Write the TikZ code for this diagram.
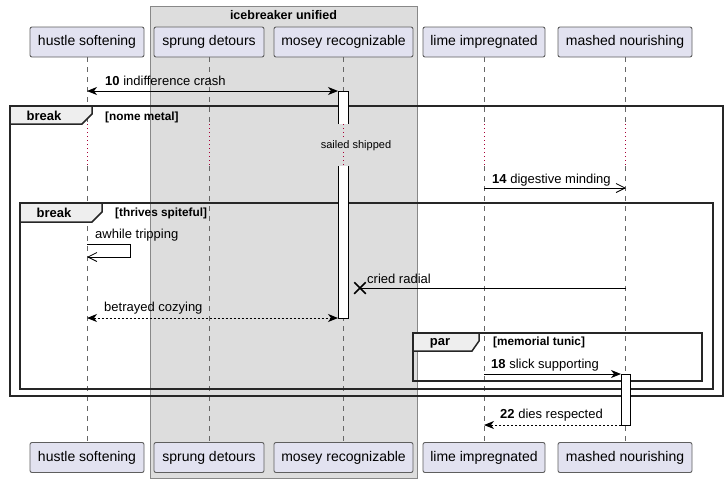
\documentclass[tikz,border=0pt]{standalone}
\usepackage{fontspec}
\setmainfont{Liberation Sans}
\usepackage{tikz}
\usetikzlibrary{arrows.meta, shapes.misc}
\definecolor{partfill}{HTML}{E2E2F0}
\definecolor{partline}{HTML}{5E5E5E}
\definecolor{grpfill}{HTML}{DDDDDD}
\definecolor{grpline}{HTML}{888888}
\definecolor{tabfill}{HTML}{EEEEEE}
\definecolor{delaycol}{HTML}{A80036}

\begin{document}
\begin{tikzpicture}[x=1pt,y=-1pt,
	part/.style={draw=partline,line width=0.9pt,fill=partfill,rounded corners=2pt,minimum height=30pt,inner sep=0pt,font=\fontsize{14}{16}\selectfont},
	life/.style={draw=black!60,dash pattern=on 5pt off 5pt,line width=0.8pt},
	delay/.style={draw=delaycol,dash pattern=on 1pt off 3pt,line width=1pt},
	frame/.style={draw=black!85,line width=1.5pt},
	tab/.style={draw=black!85,line width=1.5pt,fill=tabfill},
	msg/.style={draw=black,line width=1pt},
	lbl/.style={anchor=west,inner sep=0pt,font=\fontsize{13}{15}\selectfont},
	cond/.style={anchor=west,inner sep=0pt,font=\fontsize{11.8}{13}\selectfont\bfseries},
	fillhead/.tip={Stealth[length=10pt,width=8pt,inset=3pt]},
	openhead/.tip={Straight Barb[length=9pt,width=9pt,line width=0.8pt]}]
\useasboundingbox (0,0) rectangle (727,483);
%group
	\draw[draw=grpline,fill=grpfill] (150,6) rectangle (417,478);
	\node[font=\fontsize{12.5}{15}\selectfont\bfseries] (gtitle) at (283.5,15) {icebreaker unified};
%participants
	\node[part,minimum width=114pt] (hsT) at (87,42) {hustle softening};
	\node[part,minimum width=110pt] (sdT) at (209,42) {sprung detours};
	\node[part,minimum width=139pt] (mrT) at (343.5,42) {mosey recognizable};
	\node[part,minimum width=122pt] (liT) at (484,42) {lime impregnated};
	\node[part,minimum width=134pt] (mnT) at (625,42) {mashed nourishing};
	\node[part,minimum width=114pt] (hsB) at (87,457.5) {hustle softening};
	\node[part,minimum width=110pt] (sdB) at (209,457.5) {sprung detours};
	\node[part,minimum width=139pt] (mrB) at (343.5,457.5) {mosey recognizable};
	\node[part,minimum width=122pt] (liB) at (484,457.5) {lime impregnated};
	\node[part,minimum width=134pt] (mnB) at (625,457.5) {mashed nourishing};
	\coordinate (d1) at (0,124);
	\coordinate (d2) at (0,166);
	\foreach \p in {hs,sd,mr,li,mn}{
		\draw[life] (\p T.south) -- (\p T.south |- d1);
		\draw[delay] (\p T.south |- d1) -- (\p T.south |- d2);
		\draw[life] (\p T.south |- d2) -- (\p B.north);
	}
	\node[inner sep=1pt,fill=grpfill,font=\fontsize{11}{13}\selectfont] (dlbl) at (356,146) {sailed shipped};
%frames
	\draw[frame] (10,106) rectangle (723,396);
	\draw[tab] (10,106) -- (92,106) -- (92,114) -- (82,124) -- (10,124) -- cycle;
	\node[font=\fontsize{13}{15}\selectfont\bfseries] (brk1) at (44,116) {break};
	\node[cond] (c1) at (105,117) {[nome metal]};
	\draw[frame] (20,203) rectangle (713,389);
	\draw[tab] (20,203) -- (102,203) -- (102,212) -- (92,222) -- (20,222) -- cycle;
	\node[font=\fontsize{13}{15}\selectfont\bfseries] (brk2) at (54,213) {break};
	\node[cond] (c2) at (115,213) {[thrives spiteful]};
	\draw[frame] (413,333) rectangle (702,381);
	\draw[tab] (413,333) -- (479,333) -- (479,341) -- (472,351) -- (413,351) -- cycle;
	\node[font=\fontsize{13}{15}\selectfont\bfseries] (par1) at (440,343) {par};
	\node[cond] (c3) at (493,342) {[memorial tunic]};
%activations
	\fill[white] (338,91) rectangle (348,124);
	\draw[line width=1pt] (338,124) -- (338,91) -- (348,91) -- (348,124);
	\fill[white] (338,166) rectangle (348,318);
	\draw[line width=1pt] (338,166) -- (338,318) -- (348,318) -- (348,166);
	\draw[fill=white,line width=1pt] (621,374) rectangle (630,425);
%messages
	\coordinate (a10) at (87,91);
	\coordinate (b10) at (338,91);
	\draw[msg,fillhead-fillhead] (a10) -- (b10);
	\node[lbl] (l10) at (105,81) {\textbf{10} indifference crash};
	\coordinate (a14) at (484,188);
	\coordinate (b14) at (626,188);
	\draw[msg,-openhead] (a14) -- (b14);
	\node[lbl] (l14) at (492,180) {\textbf{14} digestive minding};
	\coordinate (s1) at (87,244);
	\coordinate (s3) at (130,257);
	\coordinate (s2) at (87,257);
	\draw[msg,-openhead] (s1) -| (s3) -- (s2);
	\node[lbl] (lself) at (95,235) {awhile tripping};
	\coordinate (acr) at (626,288);
	\node[draw,cross out,line width=1.5pt,minimum size=10pt,inner sep=0pt] (xcr) at (360,288) {};
	\draw[msg] (acr) -- (xcr.center);
	\node[lbl] (lcr) at (367,279) {cried radial};
	\coordinate (abc) at (87,318);
	\coordinate (bbc) at (338,318);
	\draw[msg,dash pattern=on 2pt off 2pt,fillhead-fillhead] (abc) -- (bbc);
	\node[lbl] (lbc) at (104,308) {betrayed cozying};
	\coordinate (a18) at (484,374);
	\coordinate (b18) at (621,374);
	\draw[msg,-fillhead] (a18) -- (b18);
	\node[lbl] (l18) at (491,365) {\textbf{18} slick supporting};
	\coordinate (a22) at (621,425);
	\coordinate (b22) at (484,425);
	\draw[msg,dash pattern=on 2pt off 2pt,-fillhead] (a22) -- (b22);
	\node[lbl] (l22) at (500,415) {\textbf{22} dies respected};
\end{tikzpicture}
\end{document}
